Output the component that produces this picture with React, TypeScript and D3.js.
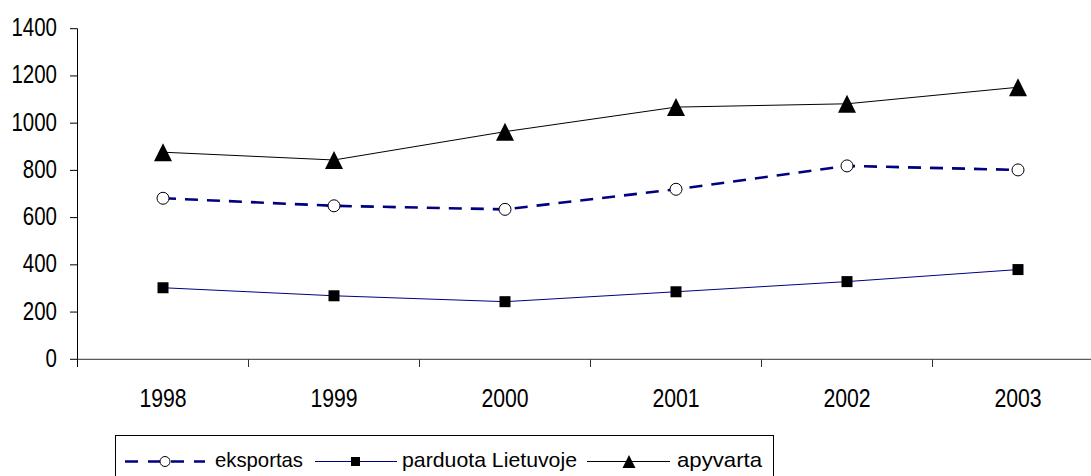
import React from "react";
import * as d3 from "d3";

const years = ["1998", "1999", "2000", "2001", "2002", "2003"];
const eksportas = [682, 650, 635, 720, 819, 802];
const parduota = [303, 269, 244, 286, 329, 380];
const apyvarta = [877, 844, 964, 1068, 1082, 1152];
const yTicks = [0, 200, 400, 600, 800, 1000, 1200, 1400];

const W = 1091;
const H = 476;

export default function App() {
  const x = d3.scaleBand<string>().domain(years).range([77.5, 1103.5]).padding(0);
  const y = d3.scaleLinear().domain([0, 1400]).range([359.3, 28.7]);
  const cx = (i: number) => (x(years[i]) as number) + x.bandwidth() / 2;
  const line = d3
    .line<number>()
    .x((_, i) => cx(i))
    .y((d) => y(d));

  const tri = (px: number, py: number, hw: number, hh: number) =>
    `M${px},${py - hh}L${px + hw},${py + hh}L${px - hw},${py + hh}Z`;

  const axisFont = "'Liberation Sans', Arial, sans-serif";
  const legFont = "'Liberation Sans', Arial, sans-serif";
  const ly = 461.5;
  const charW = 11.4;

  return (
    <svg
      width={W}
      height={H}
      style={{ position: "fixed", left: 0, top: 0, background: "#fff" }}
    >
      <rect x={0} y={0} width={W} height={H} fill="#fff" />
      {/* Y axis */}
      <line x1={77.5} x2={77.5} y1={y(1400)} y2={367} stroke="#000" strokeWidth={1} />
      {yTicks.map((t) => (
        <g key={t}>
          <line x1={70} x2={77.5} y1={y(t)} y2={y(t)} stroke="#000" strokeWidth={1} />
          <text
            x={57}
            y={y(t) + 7.5}
            textAnchor="end"
            fontFamily={axisFont}
            fontSize={26}
            fill="#000"
            textLength={String(t).length * charW}
            lengthAdjust="spacingAndGlyphs"
          >
            {t}
          </text>
        </g>
      ))}
      {/* X axis */}
      <line x1={77.5} x2={1103.5} y1={y(0)} y2={y(0)} stroke="#333" strokeWidth={1} />
      {years.map((yr, i) => (
        <g key={yr}>
          <line
            x1={(x(yr) as number) + x.bandwidth()}
            x2={(x(yr) as number) + x.bandwidth()}
            y1={y(0)}
            y2={367}
            stroke="#333"
            strokeWidth={1}
          />
          <text
            x={cx(i)}
            y={406.5}
            textAnchor="middle"
            fontFamily={axisFont}
            fontSize={26}
            fill="#000"
            textLength={yr.length * 11.8}
            lengthAdjust="spacingAndGlyphs"
          >
            {yr}
          </text>
        </g>
      ))}

      {/* apyvarta */}
      <path d={line(apyvarta) || ""} fill="none" stroke="#000" strokeWidth={1} />
      {apyvarta.map((v, i) => (
        <path key={"a" + i} d={tri(cx(i), y(v), 9, 9)} fill="#000" />
      ))}

      {/* eksportas */}
      <path
        d={line(eksportas) || ""}
        fill="none"
        stroke="#000080"
        strokeWidth={2.6}
        strokeDasharray="13,9"
      />
      {eksportas.map((v, i) => (
        <circle key={"e" + i} cx={cx(i)} cy={y(v)} r={6} fill="#fff" stroke="#000" strokeWidth={1} />
      ))}

      {/* parduota */}
      <path d={line(parduota) || ""} fill="none" stroke="#000080" strokeWidth={1} />
      {parduota.map((v, i) => (
        <rect key={"p" + i} x={cx(i) - 5.5} y={y(v) - 5.5} width={11} height={11} fill="#000" />
      ))}

      {/* Legend */}
      <rect x={115.5} y={435.5} width={658} height={60} fill="#fff" stroke="#000" strokeWidth={1} />
      <line x1={125} x2={205} y1={ly} y2={ly} stroke="#000080" strokeWidth={2.6} strokeDasharray="13,10" />
      <circle cx={165} cy={ly} r={5} fill="#fff" stroke="#000" strokeWidth={1} />
      <text x={215} y={467} fontFamily={legFont} fontSize={21} fill="#000" textLength={88} lengthAdjust="spacingAndGlyphs">
        eksportas
      </text>
      <line x1={315} x2={397} y1={ly} y2={ly} stroke="#000080" strokeWidth={1} />
      <rect x={351} y={ly - 4.5} width={9} height={9} fill="#000" />
      <text x={402} y={467} fontFamily={legFont} fontSize={21} fill="#000" textLength={175} lengthAdjust="spacingAndGlyphs">
        parduota Lietuvoje
      </text>
      <line x1={587} x2={670} y1={ly} y2={ly} stroke="#000" strokeWidth={1} />
      <path d={tri(629, ly, 6.5, 6.5)} fill="#000" />
      <text x={677} y={467} fontFamily={legFont} fontSize={21} fill="#000" textLength={85} lengthAdjust="spacingAndGlyphs">
        apyvarta
      </text>
    </svg>
  );
}
